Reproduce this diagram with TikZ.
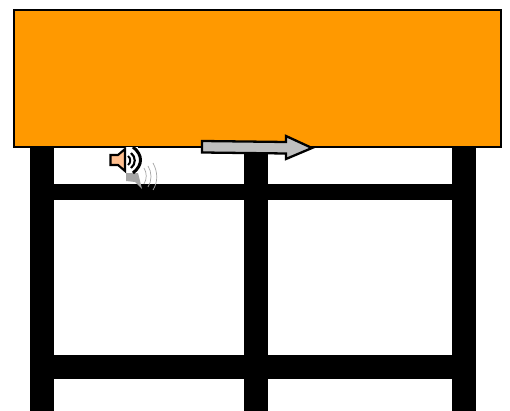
\documentclass[tikz,border=0pt]{standalone}
\usepackage{xcolor}
\definecolor{roofcolor}{HTML}{FF9900}
\definecolor{speakercolor}{HTML}{FFBF8F}
\definecolor{arrowgray}{HTML}{BFBFBF}
\begin{document}
\begin{tikzpicture}[x=0.02cm,y=-0.02cm]
    \useasboundingbox (0,0) rectangle (510,411);
    \fill[white] (0,0) rectangle (510,411);
    % frame
    \fill[black] (30,140) rectangle (54,411);
    \fill[black] (244,140) rectangle (268,411);
    \fill[black] (452,140) rectangle (476,411);
    \fill[black] (30,184) rectangle (476,200);
    \fill[black] (30,355) rectangle (476,379);
    \draw[fill=roofcolor, draw=black, line width=0.95pt] (14.2,10.2) rectangle (500.8,146.8);
    % speaker shadow
    \fill[gray!70] (126,172) -- (138,173) -- (142,189) -- (135,182) -- (126,181) -- cycle;
    \draw[gray!70, line width=0.4pt] (144,168) .. controls (147,173) and (147,179) .. (144,184);
    \draw[gray!70, line width=0.4pt] (148,166) .. controls (152,172) and (152,181) .. (148,187);
    \draw[gray!70, line width=0.4pt] (153,163) .. controls (158,172) and (158,182) .. (153,190);
    % speaker
    \fill[white] (125,147) rectangle (138,173);
    \draw[fill=speakercolor, draw=black, line width=1.2pt, line join=miter] (110.5,155) -- (118,155) -- (125,149) -- (125,171) -- (118,165) -- (110.5,165) -- cycle;
    \draw[black, line width=1.7pt] (133,147) .. controls (143,155) and (143,165) .. (133,173);
    \draw[black, line width=1.2pt] (131,153) .. controls (136,157) and (136,164) .. (131,168);
    \draw[black, line width=1.1pt] (128,156) .. controls (131,158) and (131,163) .. (128,165);
    % arrow
    \draw[fill=arrowgray, draw=black, line width=1.3pt, line join=miter] (202,141) -- (286,142) -- (286,136) -- (312,148) -- (286,159) -- (286,153.5) -- (202,152.5) -- cycle;
\end{tikzpicture}
\end{document}
